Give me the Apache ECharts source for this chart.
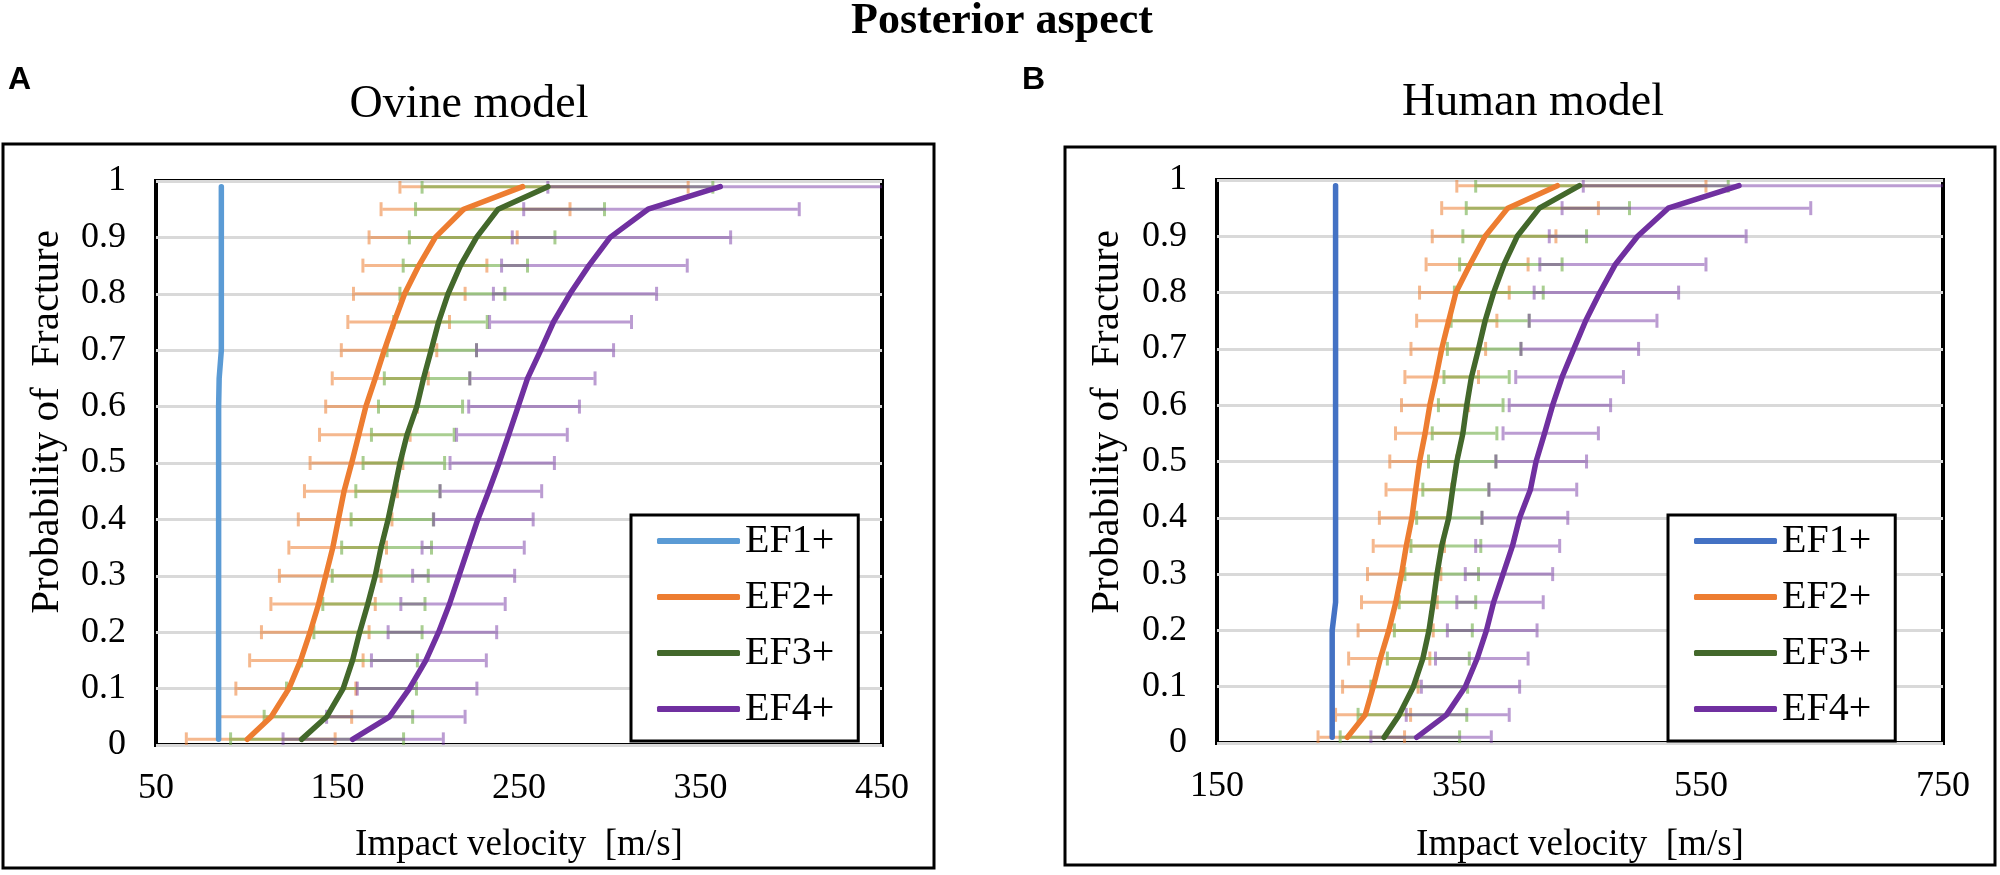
<!DOCTYPE html>
<html>
<head>
<meta charset="utf-8">
<script src="https://cdn.jsdelivr.net/npm/echarts/dist/echarts.min.js"></script>
<style>
  html, body { margin: 0; padding: 0; background: #fff; }
  #main { width: 2000px; height: 875px; }
</style>
</head>
<body>
<div id="main"></div>
<script>
// probability levels shared by every curve
var probs = [0.01,0.05,0.1,0.15,0.2,0.25,0.3,0.35,0.4,0.45,0.5,0.55,0.6,0.65,0.7,0.75,0.8,0.85,0.9,0.95,0.99];

// Ovine model (A)
var ovEF1 = [84.5,84.5,84.5,84.5,84.5,84.5,84.5,84.5,84.5,84.5,84.5,84.5,84.5,84.8,86,86,86,86,86,86,86];
var ovEF2 = [100.3,113.5,123.2,129.7,134.9,139.6,143.5,147.4,150.5,153.6,157.8,161.7,165.6,170.8,175.8,181.2,187,194.8,203.9,219.5,252];
var ovEF2Lo = [66.7,84,94,101.6,108.1,113.3,118,123.2,128.4,131.8,134.9,140.1,143.5,147.1,152.1,155.7,158.8,164,167.4,174,184.4];
var ovEF2Hi = [148.7,157.8,160.1,164.1,167.4,170.8,174,177,180,183,186,190,194,200,204.7,211.7,220.3,232.3,249,278.1,343.2];
var ovEF3 = [130.2,144,153.1,158.3,162.2,166.7,170.8,174,177.9,181.2,184.4,188.3,193.7,197.4,201.6,205.7,210.9,217.7,226.6,238.5,265.9];
var ovEF3Lo = [91.1,109.6,121.9,130.2,137,141.9,147.1,152.3,157.5,160.1,164.1,168.7,172.6,175.8,177.3,181,184.4,186.2,189.6,193,196.6];
var ovEF3Hi = [186.4,191.4,193.5,194,196.6,198.2,200,201.8,202.8,206.5,209,214.3,218.9,222.9,226.6,232.5,242.2,254.7,269.8,297.1,356.8];
var ovEF4 = [158.3,178.6,189.6,198.7,205.7,211.7,216.9,222.1,227.3,233.3,239,244.3,249.5,254.7,262,269,278.1,288.5,300.2,321.1,360.9];
var ovEF4Lo = [120,144,160.9,168.7,177.9,184.9,191.4,196.6,203,206.5,212,215.6,222.3,222.9,226.6,233.8,235.9,240.4,246.3,252.6,265.9];
var ovEF4Hi = [208.3,220.3,226.8,232,237.7,242.4,247.6,252.9,257.8,262.5,269.5,276.6,283.3,291.9,302.1,312,325.8,342.7,366.6,404.4,500];

// Human model (B)
var huEF1 = [245.2,245.2,245.2,245.2,245.2,248,248,248,248,248,248,248,248,248,248,248,248,248,248,248,248];
var huEF2 = [257.7,272.5,279.1,285,292,297.8,302.5,306.4,311.1,314.2,317.4,322,325.9,331,335.7,341.5,347.4,359.1,371.6,390.3,431.3];
var huEF2Lo = [233.5,248,253.8,258.8,266.6,269.4,274.4,279.1,284.2,289.7,292.8,297.5,302.5,305.3,310.3,315,317.4,322.8,327.9,335.7,348.2];
var huEF2Hi = [305,310,316.2,325.9,328.7,332,335,338,341,344,348,353,358,366.1,372,381.3,391.5,407.1,430.1,465.2,554.1];
var huEF3 = [288.1,300.6,312.3,320.1,325.2,328.7,331.8,335.7,341.5,344.7,348.2,353.2,356.4,360.3,366.1,371.6,378.6,387.2,398.1,416.4,449.6];
var huEF3Lo = [251.8,266.6,277.2,290.8,296.6,300.6,305.3,310.3,315,320.1,324.8,327.9,333,337.6,340.4,343.5,346.2,350.5,353.2,356,363.8];
var huEF3Hi = [350.5,356.4,357.1,358.5,361,363.8,366.1,368,369,374.7,380.5,381.3,386.4,391.5,401.2,408,419.6,435.2,455.4,490.9,572.5];
var huEF4 = [315,339.6,355.2,365,372.7,378.6,386.4,394.2,400.1,409,413.7,420.7,427.4,435.2,444.9,454.7,466.4,479.2,497.6,522.9,581.4];
var huEF4Lo = [277.2,306.4,318.9,330.6,340.4,348.2,355.2,363.8,369,374.7,380.5,386.4,391.5,396.9,401.2,408,412.1,416.8,424.6,435.2,452.7];
var huEF4Hi = [376.7,391.5,400.1,407.1,414.5,419.6,427.4,433.2,439.9,447.3,455.4,465.2,475.3,485.9,498.4,513.6,531.5,554.1,587.3,640.7,800];

var ovTicks = { min: 50, max: 450, interval: 100 };
var huTicks = { min: 150, max: 750, interval: 200 };

var SERIF = "Liberation Serif";

var chart = echarts.init(document.getElementById('main'));

function lineSeries(name, values, color, idx){
  return {
    name: name,
    type: 'line',
    xAxisIndex: idx,
    yAxisIndex: idx,
    showSymbol: false,
    symbol: 'none',
    z: 5,
    lineStyle: { color: color, width: 5.5, cap: 'round', join: 'round' },
    itemStyle: { color: color },
    data: probs.map(function(p, i){ return [values[i], p]; })
  };
}

// horizontal error bar with caps, drawn through the axis scales
function errSeries(name, lo, hi, color, idx){
  return {
    name: name,
    type: 'custom',
    xAxisIndex: idx,
    yAxisIndex: idx,
    clip: true,
    z: 2,
    silent: true,
    encode: { x: [0, 1], y: 2 },
    data: probs.map(function(p, i){ return [lo[i], hi[i], p]; }),
    renderItem: function(params, api){
      var a = api.coord([api.value(0), api.value(2)]);
      var b = api.coord([api.value(1), api.value(2)]);
      var h = 7;
      var st = { stroke: color, lineWidth: 3 };
      return {
        type: 'group',
        children: [
          { type: 'line', shape: { x1: a[0] + 1.5, y1: a[1], x2: b[0] - 1.5, y2: b[1] }, style: st },
          { type: 'line', shape: { x1: a[0], y1: a[1] - h, x2: a[0], y2: a[1] + h }, style: st },
          { type: 'line', shape: { x1: b[0], y1: b[1] - h, x2: b[0], y2: b[1] + h }, style: st }
        ]
      };
    }
  };
}

var ORANGE = '#ED7D31', GREEN = '#43682B', PURPLE = '#7030A0';
var ORANGE_E = 'rgba(237,125,49,0.55)', GREEN_E = 'rgba(112,173,71,0.6)', PURPLE_E = 'rgba(112,48,160,0.48)';

function xAxis(idx, t){
  return {
    type: 'value', gridIndex: idx, min: t.min, max: t.max, interval: t.interval,
    axisLine: { show: false }, axisTick: { show: false }, splitLine: { show: false },
    axisLabel: { fontFamily: SERIF, fontSize: 36, color: '#000', margin: 26 }
  };
}
function yAxis(idx){
  return {
    type: 'value', gridIndex: idx, min: 0, max: 1, interval: 0.1,
    axisLine: { show: false }, axisTick: { show: false },
    splitLine: { show: true, lineStyle: { color: '#d9d9d9', width: 3 } },
    axisLabel: { fontFamily: SERIF, fontSize: 36, color: '#000', margin: 30 }
  };
}
function legend(left, top, names){
  return {
    orient: 'vertical', left: left, top: top,
    data: names,
    icon: 'roundRect', itemWidth: 83, itemHeight: 6, itemGap: 16,
    padding: [6, 24, 12, 26],
    backgroundColor: '#fff', borderColor: '#000', borderWidth: 3,
    formatter: function(n){ return '{t|' + n.trim() + '}'; },
    textStyle: {
      fontFamily: SERIF, fontSize: 40, lineHeight: 38, color: '#000',
      rich: { t: { fontFamily: SERIF, fontSize: 40, lineHeight: 38, color: '#000' } }
    },
    selectedMode: false
  };
}
function txt(x, y, s, size, opts){
  opts = opts || {};
  return {
    type: 'text', x: x, y: y, rotation: opts.rot || 0, z: 10,
    style: {
      text: s, fill: '#000', align: opts.align || 'center', verticalAlign: 'middle',
      fontFamily: opts.family || SERIF, fontSize: size, fontWeight: opts.bold ? 'bold' : 'normal'
    }
  };
}

var option = {
  animation: false,
  backgroundColor: '#fff',
  textStyle: { fontFamily: SERIF },
  grid: [
    { left: 156, top: 181, width: 726, height: 564, show: true, borderColor: '#000', borderWidth: 4, backgroundColor: '#fff' },
    { left: 1217, top: 180, width: 726, height: 563, show: true, borderColor: '#000', borderWidth: 4, backgroundColor: '#fff' }
  ],
  xAxis: [xAxis(0, ovTicks), xAxis(1, huTicks)],
  yAxis: [yAxis(0), yAxis(1)],
  legend: [
    legend(631, 515, ['EF1+', 'EF2+', 'EF3+', 'EF4+']),
    legend(1668, 515, ['EF1+ ', 'EF2+ ', 'EF3+ ', 'EF4+ '])
  ],
  graphic: [
    // panel frames
    { type: 'rect', shape: { x: 3, y: 144, width: 931, height: 724 }, style: { fill: null, stroke: '#000', lineWidth: 3 }, z: 0 },
    { type: 'rect', shape: { x: 1065, y: 147, width: 930, height: 718 }, style: { fill: null, stroke: '#000', lineWidth: 3 }, z: 0 },
    txt(1002, 22, 'Posterior aspect', 44, { bold: true }),
    txt(8, 80, 'A', 32, { bold: true, align: 'left', family: 'Liberation Sans' }),
    txt(1022, 80, 'B', 32, { bold: true, align: 'left', family: 'Liberation Sans' }),
    txt(469, 105, 'Ovine model', 46),
    txt(1533, 103, 'Human model', 46),
    txt(47, 422, 'Probability of  Fracture', 41, { rot: Math.PI / 2 }),
    txt(1107, 422, 'Probability of  Fracture', 41, { rot: Math.PI / 2 }),
    txt(519, 845, 'Impact velocity  [m/s]', 37),
    txt(1580, 845, 'Impact velocity  [m/s]', 37)
  ],
  series: [
    errSeries('ov2err', ovEF2Lo, ovEF2Hi, ORANGE_E, 0),
    errSeries('ov3err', ovEF3Lo, ovEF3Hi, GREEN_E, 0),
    errSeries('ov4err', ovEF4Lo, ovEF4Hi, PURPLE_E, 0),
    lineSeries('EF1+', ovEF1, '#5B9BD5', 0),
    lineSeries('EF2+', ovEF2, ORANGE, 0),
    lineSeries('EF3+', ovEF3, GREEN, 0),
    lineSeries('EF4+', ovEF4, PURPLE, 0),

    errSeries('hu2err', huEF2Lo, huEF2Hi, ORANGE_E, 1),
    errSeries('hu3err', huEF3Lo, huEF3Hi, GREEN_E, 1),
    errSeries('hu4err', huEF4Lo, huEF4Hi, PURPLE_E, 1),
    lineSeries('EF1+ ', huEF1, '#4472C4', 1),
    lineSeries('EF2+ ', huEF2, ORANGE, 1),
    lineSeries('EF3+ ', huEF3, GREEN, 1),
    lineSeries('EF4+ ', huEF4, PURPLE, 1)
  ]
};

chart.setOption(option);
</script>
</body>
</html>
